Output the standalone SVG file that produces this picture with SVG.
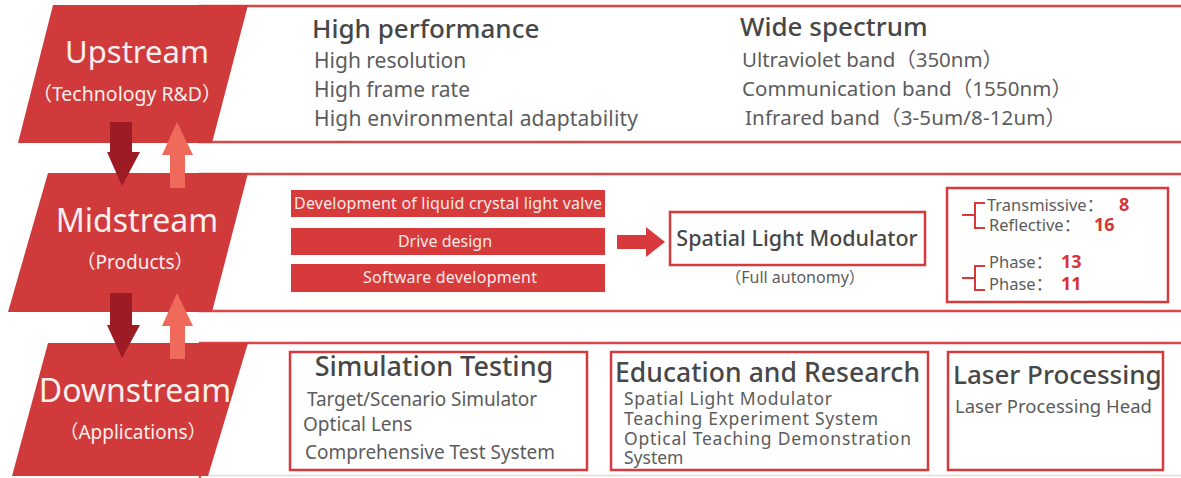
<svg xmlns="http://www.w3.org/2000/svg" width="1181" height="478" viewBox="0 0 1181 478">
<style>
.band{fill:#ffffff;stroke:#d9474a;stroke-width:2.5}
.stage{fill:#d03a3a}
.stT{font-family:"Noto Sans","Open Sans",sans-serif;fill:#fbeeee;text-anchor:middle}
.stS{font-family:"Noto Sans","Open Sans","Noto Sans CJK SC",sans-serif;fill:#fbeeee;text-anchor:middle}
.h{font-family:"Noto Sans","Open Sans",sans-serif;fill:#474747;font-weight:500}
.b{font-family:"Noto Sans","Open Sans","Noto Sans CJK SC",sans-serif;fill:#5c5c5c}
.bar{fill:#d63a3a}
.barT{font-family:"Noto Sans","Open Sans",sans-serif;fill:#fbe9e9;font-size:16px;text-anchor:middle}
.box{fill:#ffffff;stroke:#d8393d;stroke-width:2.5}
.num{font-family:"Noto Sans","Open Sans",sans-serif;fill:#d43535;font-weight:700;font-size:18px}
.brk{fill:none;stroke:#d8393d;stroke-width:2}
.dn{fill:#9c1b24}
.up{fill:#f06a5c}
.big{fill:#d8393d}
</style>
<rect width="1181" height="478" fill="#ffffff"/>
<g id="upstream">
<rect class="band" x="200" y="6" width="990" height="136"/>
<polygon class="stage" points="53,5 248,5 212,143 18,143"/>
<text class="stT" x="137" y="63" font-size="31">Upstream</text>
<text class="stS" x="127" y="101" font-size="19.5">（Technology R&amp;D）</text>
<text class="h" x="312" y="38" font-size="26">High performance</text>
<text class="b" x="314" y="68" font-size="21">High resolution</text>
<text class="b" x="314" y="97" font-size="21">High frame rate</text>
<text class="b" x="314" y="126" font-size="21" textLength="324">High environmental adaptability</text>
<text class="h" x="740" y="36" font-size="26">Wide spectrum</text>
<text class="b" x="742" y="67" font-size="20.5" textLength="261">Ultraviolet band（350nm）</text>
<text class="b" x="742" y="96" font-size="20.5" textLength="330">Communication band（1550nm）</text>
<text class="b" x="745" y="125" font-size="20.5" textLength="321">Infrared band（3-5um/8-12um）</text>
</g>
<g id="midstream">
<rect class="band" x="200" y="174" width="990" height="137"/>
<polygon class="stage" points="48,173 248,173 212,312 8,312"/>
<text class="stT" x="137" y="232" font-size="32">Midstream</text>
<text class="stS" x="135" y="269" font-size="19">（Products）</text>
</g>
<g id="lcv">
<rect class="bar" x="291" y="190" width="314" height="27"/>
<text class="barT" x="448" y="209" textLength="308">Development of liquid crystal light valve</text>
</g>
<g id="drive">
<rect class="bar" x="291" y="228" width="314" height="27"/>
<text class="barT" x="445" y="247">Drive design</text>
</g>
<g id="software">
<rect class="bar" x="291" y="264" width="314" height="28"/>
<text class="barT" x="450" y="283" textLength="174">Software development</text>
</g>
<g id="slm">
<rect class="box" x="670" y="212" width="255" height="53"/>
<text class="h" x="797" y="246" font-size="21.5" text-anchor="middle">Spatial Light Modulator</text>
<text class="b" x="795" y="283" font-size="16" text-anchor="middle">（Full autonomy）</text>
</g>
<g id="types">
<rect class="box" x="947" y="188" width="221" height="114"/>
<path class="brk" d="M962,215 H975 M985,203 H975 V228 H985"/>
<path class="brk" d="M962,278 H975 M985,266 H975 V290 H985"/>
<text class="b" x="987" y="211" font-size="16.5">Transmissive：</text>
<text class="num" x="1119" y="211">8</text>
<text class="b" x="989" y="231" font-size="16.5">Reflective：</text>
<text class="num" x="1094" y="231">16</text>
<text class="b" x="989" y="268" font-size="16.5">Phase：</text>
<text class="num" x="1061" y="268">13</text>
<text class="b" x="989" y="290" font-size="16.5">Phase：</text>
<text class="num" x="1061" y="290">11</text>
</g>
<g id="downstream">
<rect class="band" x="200" y="343" width="990" height="150"/>
<line x1="200" y1="475.5" x2="1181" y2="475.5" stroke="#dddddd" stroke-width="1.5"/>
<polygon class="stage" points="48,343 248,343 208,476 12,476"/>
<text class="stT" x="135" y="402" font-size="32">Downstream</text>
<text class="stS" x="133" y="439" font-size="19">（Applications）</text>
</g>
<g id="simulation">
<rect class="box" x="290" y="352" width="297" height="118"/>
<text class="h" x="434" y="376" font-size="27" text-anchor="middle">Simulation Testing</text>
<text class="b" x="307" y="406" font-size="19" textLength="230">Target/Scenario Simulator</text>
<text class="b" x="303" y="431" font-size="19">Optical Lens</text>
<text class="b" x="305" y="459" font-size="19" textLength="250">Comprehensive Test System</text>
</g>
<g id="education">
<rect class="box" x="611" y="352" width="317" height="118"/>
<text class="h" x="615" y="382" font-size="26.5" textLength="305">Education and Research</text>
<text class="b" x="624" y="405" font-size="17.5" textLength="208">Spatial Light Modulator</text>
<text class="b" x="624" y="425" font-size="17.5" textLength="254">Teaching Experiment System</text>
<text class="b" x="624" y="445" font-size="17.5" textLength="287">Optical Teaching Demonstration</text>
<text class="b" x="624" y="464" font-size="17.5">System</text>
</g>
<g id="laser">
<rect class="box" x="948" y="352" width="215" height="118"/>
<text class="h" x="953" y="384" font-size="26">Laser Processing</text>
<text class="b" x="955" y="413" font-size="18.5" textLength="197">Laser Processing Head</text>
</g>
<g id="connectors">
<path class="dn" d="M110,122 H132 V152 H140 L122,186 L107,152 H110 Z"/>
<path class="up" d="M170,188 V155 H162 L177,122 L193,155 H185 V188 Z"/>
<path class="dn" d="M110,293 H132 V325 H140 L122,358 L107,325 H110 Z"/>
<path class="up" d="M170,359 V326 H162 L177,293 L193,326 H185 V359 Z"/>
<path class="big" d="M617,235 H646 V227 L665,242 L646,257 V249 H617 Z"/>
</g>
</svg>
